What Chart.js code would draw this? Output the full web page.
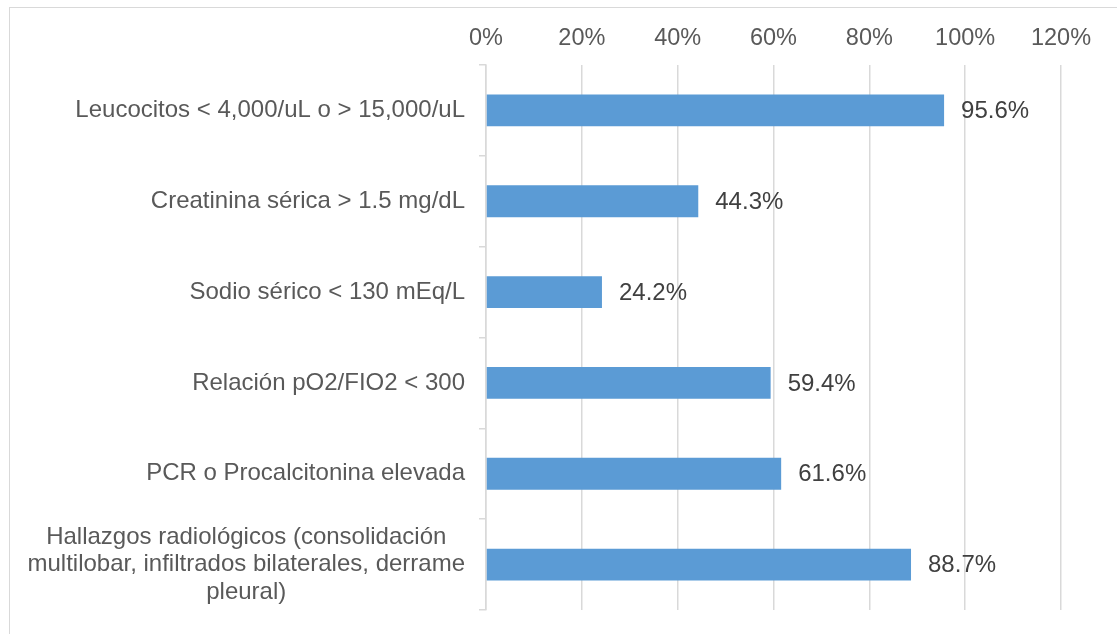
<!DOCTYPE html>
<html>
<head>
<meta charset="utf-8">
<script src="https://cdn.jsdelivr.net/npm/chart.js@4"></script>
<style>
  body { margin: 0; background: #fff; overflow: hidden; }
  #wrap { position: relative; width: 1117px; height: 634px; }
  #frame { position: absolute; left: 9px; top: 7px; width: 1200px; height: 700px; border: 1px solid #d9d9d9; }
  canvas { position: absolute; left: 0; top: 0; }
</style>
</head>
<body>
<div id="wrap">
  <div id="frame"></div>
  <canvas id="chart" width="1117" height="634"></canvas>
</div>
<script>
const categories = [
    ["Leucocitos < 4,000/uL o > 15,000/uL"],
    ["Creatinina sérica > 1.5 mg/dL"],
    ["Sodio sérico < 130 mEq/L"],
    ["Relación pO2/FIO2 < 300"],
    ["PCR o Procalcitonina elevada"],
    ["Hallazgos radiológicos (consolidación", "multilobar, infiltrados bilaterales, derrame", "pleural)"]
];
const percentValues = [95.6, 44.3, 24.2, 59.4, 61.6, 88.7];
const xTicks = [0, 20, 40, 60, 80, 100, 120];

const FONT = "'Liberation Sans', Arial, sans-serif";

// category labels + value labels drawn by hand (mixed alignment)
const labelPlugin = {
    id: "labels",
    afterDraw(chart) {
        const ctx = chart.ctx;
        const yScale = chart.scales.y;
        ctx.save();
        ctx.font = "24px " + FONT;
        ctx.textBaseline = "middle";

        // y labels: block right-aligned, lines centred inside it
        ctx.fillStyle = "#595959";
        const rightEdge = 465;
        const lineH = 27.5;
        categories.forEach((lines, i) => {
            const cy = yScale.getPixelForValue(i);
            const maxW = Math.max(...lines.map(l => ctx.measureText(l).width));
            const center = rightEdge - maxW / 2;
            ctx.textAlign = "center";
            lines.forEach((line, j) => {
                const y = cy + (j - (lines.length - 1) / 2) * lineH;
                ctx.fillText(line, center, y);
            });
        });

        // value labels
        ctx.fillStyle = "#404040";
        ctx.textAlign = "left";
        const meta = chart.getDatasetMeta(0);
        meta.data.forEach((bar, i) => {
            ctx.fillText(percentValues[i].toFixed(1) + "%", bar.x + 17, bar.y + 1);
        });
        ctx.restore();
    }
};

new Chart(document.getElementById("chart").getContext("2d"), {
    type: "bar",
    data: {
        labels: categories.map(c => c.join(" ")),
        datasets: [{
            data: percentValues,
            backgroundColor: "#5b9bd5",
            categoryPercentage: 1,
            barPercentage: 0.35
        }]
    },
    options: {
        indexAxis: "y",
        responsive: false,
        animation: false,
        layout: { padding: { top: 0, right: 56, bottom: 24, left: 0 } },
        plugins: { legend: { display: false }, tooltip: { enabled: false } },
        scales: {
            x: {
                position: "top",
                min: 0,
                max: 120,
                afterBuildTicks: scale => { scale.ticks = xTicks.map(v => ({ value: v })); },
                afterFit: scale => { scale.height = 65; },
                grid: { color: "#d9d9d9", lineWidth: 1.5, drawTicks: false },
                border: { display: false },
                ticks: {
                    padding: 12,
                    color: "#595959",
                    font: { family: FONT, size: 23.5 },
                    callback: v => v + "%"
                }
            },
            y: {
                afterFit: scale => { scale.width = 486; },
                grid: { offset: true, drawOnChartArea: false, tickLength: 7, color: "#d9d9d9", lineWidth: 1.5 },
                border: { display: true, color: "#d9d9d9", width: 1.5 },
                ticks: { display: false }
            }
        }
    },
    plugins: [labelPlugin]
});
</script>
</body>
</html>
